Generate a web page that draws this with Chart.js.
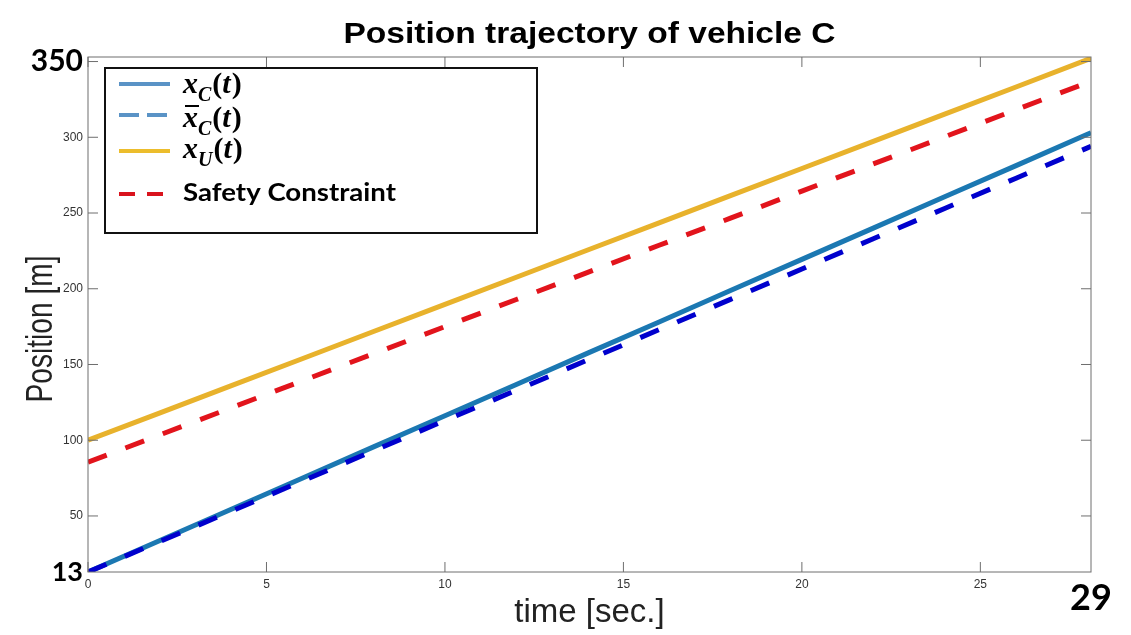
<!DOCTYPE html>
<html>
<head>
<meta charset="utf-8">
<script src="https://cdn.jsdelivr.net/npm/chart.js@4.4.1/dist/chart.umd.min.js"></script>
<style>
  html, body { margin: 0; padding: 0; background: #fff; }
  #wrap { width: 1131px; height: 635px; }
</style>
</head>
<body>
<div id="wrap"><canvas id="posChart"></canvas></div>
<script>
// values
const timeSec = [0, 2, 4, 6, 8, 10, 12, 14, 16, 18, 20, 22, 24, 26, 28, 28.1];
const xC      = [13, 33.6, 54.3, 74.9, 95.6, 116.2, 136.8, 157.5, 178.1, 198.8, 219.4, 240, 260.7, 281.3, 302, 303];
const xCbar   = [13, 33, 53, 73, 93, 113, 133, 153, 173, 193, 213, 233, 253, 273, 293, 294];
const xU      = [100, 117.9, 135.9, 153.8, 171.8, 189.7, 207.6, 225.6, 243.5, 261.5, 279.4, 297.3, 315.3, 333.2, 351.2, 352];
const safety  = [85.5, 103.4, 121.3, 139.2, 157.1, 175, 192.9, 210.8, 228.7, 246.6, 264.5, 282.4, 300.3, 318.2, 336.1, 337];

const xTicks = [0, 5, 10, 15, 20, 25, 28.1];
const xTickLabels = ['0', '5', '10', '15', '20', '25', '29'];
const yTicks = [13, 50, 100, 150, 200, 250, 300, 350];
const yTickLabels = ['13', '50', '100', '150', '200', '250', '300', '350'];
const bigTicks = { 13: 27, 350: 30, 28.1: 36 };   // hand-added labels, drawn big and bold

const titleText = 'Position trajectory of vehicle C';
const yTitleText = 'Position [m]';

const pts = ys => timeSec.map((t, i) => ({ x: t, y: ys[i] }));
const bigSize = c => (c && c.tick) ? bigTicks[c.tick.value] : undefined;
const tickFont = c => bigSize(c)
  ? { family: 'Lato, "Open Sans", sans-serif', size: bigSize(c), weight: 'bold' }
  : { family: '"Liberation Sans", Arial, sans-serif', size: 12 };
const tickColor = c => bigSize(c) ? '#000' : '#333';

// text in the source image is a bit stretched, so fit it to the measured width
function stretchText(ctx, text, cx, cy, targetW, sx, sy) {
  const w = ctx.measureText(text).width;
  ctx.save();
  ctx.translate(cx, cy);
  ctx.scale(sx !== undefined ? sx : targetW / w, sy || 1);
  ctx.fillText(text, 0, 0);
  ctx.restore();
}

// MATLAB-style box: frame plus inward tick marks, title and y label
const boxFrame = {
  id: 'boxFrame',
  afterDraw(chart) {
    const { ctx, chartArea: a, scales: { x, y } } = chart;
    ctx.save();
    ctx.strokeStyle = '#6e6e6e';
    ctx.lineWidth = 1;
    ctx.strokeRect(a.left, a.top, a.right - a.left, a.bottom - a.top);
    ctx.beginPath();
    xTicks.slice(0, -1).forEach(v => {
      const px = x.getPixelForValue(v);
      ctx.moveTo(px, a.bottom); ctx.lineTo(px, a.bottom - 10);
      ctx.moveTo(px, a.top); ctx.lineTo(px, a.top + 10);
    });
    yTicks.slice(1).forEach(v => {
      const py = y.getPixelForValue(v);
      ctx.moveTo(a.left, py); ctx.lineTo(a.left + 10, py);
      ctx.moveTo(a.right, py); ctx.lineTo(a.right - 10, py);
    });
    ctx.stroke();

    ctx.fillStyle = '#000';
    ctx.textAlign = 'center';
    ctx.textBaseline = 'alphabetic';
    ctx.font = 'bold 29px "Liberation Sans", Arial, sans-serif';
    stretchText(ctx, titleText, (a.left + a.right) / 2, 43, 492);

    ctx.fillStyle = '#222';
    ctx.font = '30px "Liberation Sans", Arial, sans-serif';
    ctx.save();
    ctx.translate(42, 329);
    ctx.rotate(-Math.PI / 2);
    ctx.textBaseline = 'middle';
    stretchText(ctx, yTitleText, 0, 0, 0, 147 / ctx.measureText(yTitleText).width, 1.25);
    ctx.restore();
    ctx.restore();
  }
};

// legend box inside the axes, with math labels
const mathLegend = {
  id: 'mathLegend',
  afterDraw(chart) {
    const ctx = chart.ctx;
    ctx.save();
    ctx.fillStyle = '#fff';
    ctx.fillRect(105, 68, 432, 165);
    ctx.strokeStyle = '#111';
    ctx.lineWidth = 2;
    ctx.strokeRect(105, 68, 432, 165);

    const rows = [
      { y: 84, color: '#5a93c6', dash: [] },
      { y: 115, color: '#5a93c6', dash: [20, 8] },
      { y: 151, color: '#ecbd2c', dash: [] },
      { y: 194, color: '#d9131d', dash: [16, 12] }
    ];
    rows.forEach(r => {
      ctx.beginPath();
      ctx.setLineDash(r.dash);
      ctx.strokeStyle = r.color;
      ctx.lineWidth = 4;
      ctx.moveTo(119, r.y); ctx.lineTo(170, r.y);
      ctx.stroke();
    });
    ctx.setLineDash([]);

    ctx.fillStyle = '#000';
    ctx.textBaseline = 'alphabetic';
    const serif = '"Liberation Serif", "DejaVu Serif", serif';
    function mathLabel(x0, base, sub, bar) {
      ctx.font = 'italic bold 30px ' + serif;
      ctx.fillText('x', x0, base);
      const wx = ctx.measureText('x').width;
      if (bar) {
        ctx.fillRect(x0 + 2, base - 22, wx - 1, 2);
      }
      ctx.font = 'italic bold 20px ' + serif;
      ctx.fillText(sub, x0 + wx, base + 8);
      const ws = ctx.measureText(sub).width;
      let cx = x0 + wx + ws + 1;
      ctx.font = 'bold 30px ' + serif;
      ctx.fillText('(', cx, base);
      cx += ctx.measureText('(').width;
      ctx.font = 'italic bold 30px ' + serif;
      ctx.fillText('t', cx, base);
      cx += ctx.measureText('t').width + 1;
      ctx.font = 'bold 30px ' + serif;
      ctx.fillText(')', cx, base);
    }
    mathLabel(183, 93, 'C', false);
    mathLabel(183, 127, 'C', true);
    mathLabel(183, 158, 'U', false);
    ctx.font = 'bold 25px Lato, "Open Sans", sans-serif';
    ctx.textBaseline = 'middle';
    ctx.textAlign = 'left';
    stretchText(ctx, 'Safety Constraint', 183, 193, 213);
    ctx.restore();
  }
};

new Chart(document.getElementById('posChart'), {
  type: 'line',
  data: {
    datasets: [
      {
        label: 'x̄C(t)',
        data: pts(xCbar),
        borderColor: '#0000cd',
        borderWidth: 5,
        borderDash: [20, 20],
        pointRadius: 0
      },
      {
        label: 'xC(t)',
        data: pts(xC),
        borderColor: '#1b78b2',
        borderWidth: 5,
        pointRadius: 0
      },
      {
        label: 'xU(t)',
        data: pts(xU),
        borderColor: '#e8b22c',
        borderWidth: 5,
        pointRadius: 0
      },
      {
        label: 'Safety Constraint',
        data: pts(safety),
        borderColor: '#e2141c',
        borderWidth: 5,
        borderDash: [20, 20],
        pointRadius: 0
      }
    ]
  },
  options: {
    responsive: true,
    maintainAspectRatio: false,
    animation: false,
    layout: { padding: { left: 0, right: 40, top: 57, bottom: 0 } },
    plugins: {
      legend: { display: false },
      tooltip: { enabled: false },
      title: { display: false }
    },
    scales: {
      x: {
        type: 'linear',
        min: 0,
        max: 28.1,
        grid: { display: false, drawTicks: false },
        border: { display: false },
        afterBuildTicks: s => { s.ticks = xTicks.map(v => ({ value: v })); },
        afterFit: s => { s.height = 63; },
        ticks: {
          autoSkip: false,
          maxRotation: 0,
          padding: 5,
          callback: (v, i) => xTickLabels[i],
          color: tickColor,
          font: tickFont
        },
        title: {
          display: true,
          text: 'time [sec.]',
          color: '#222',
          font: { family: '"Liberation Sans", Arial, sans-serif', size: 33 },
          padding: { top: 0, bottom: 2 }
        }
      },
      y: {
        min: 13,
        max: 353,
        grid: { display: false, drawTicks: false },
        border: { display: false },
        afterBuildTicks: s => { s.ticks = yTicks.map(v => ({ value: v })); },
        afterFit: s => { s.width = 88; },
        ticks: {
          autoSkip: false,
          padding: 5,
          callback: (v, i) => yTickLabels[i],
          color: tickColor,
          font: tickFont
        }
      }
    }
  },
  plugins: [boxFrame, mathLegend]
});
</script>
</body>
</html>
